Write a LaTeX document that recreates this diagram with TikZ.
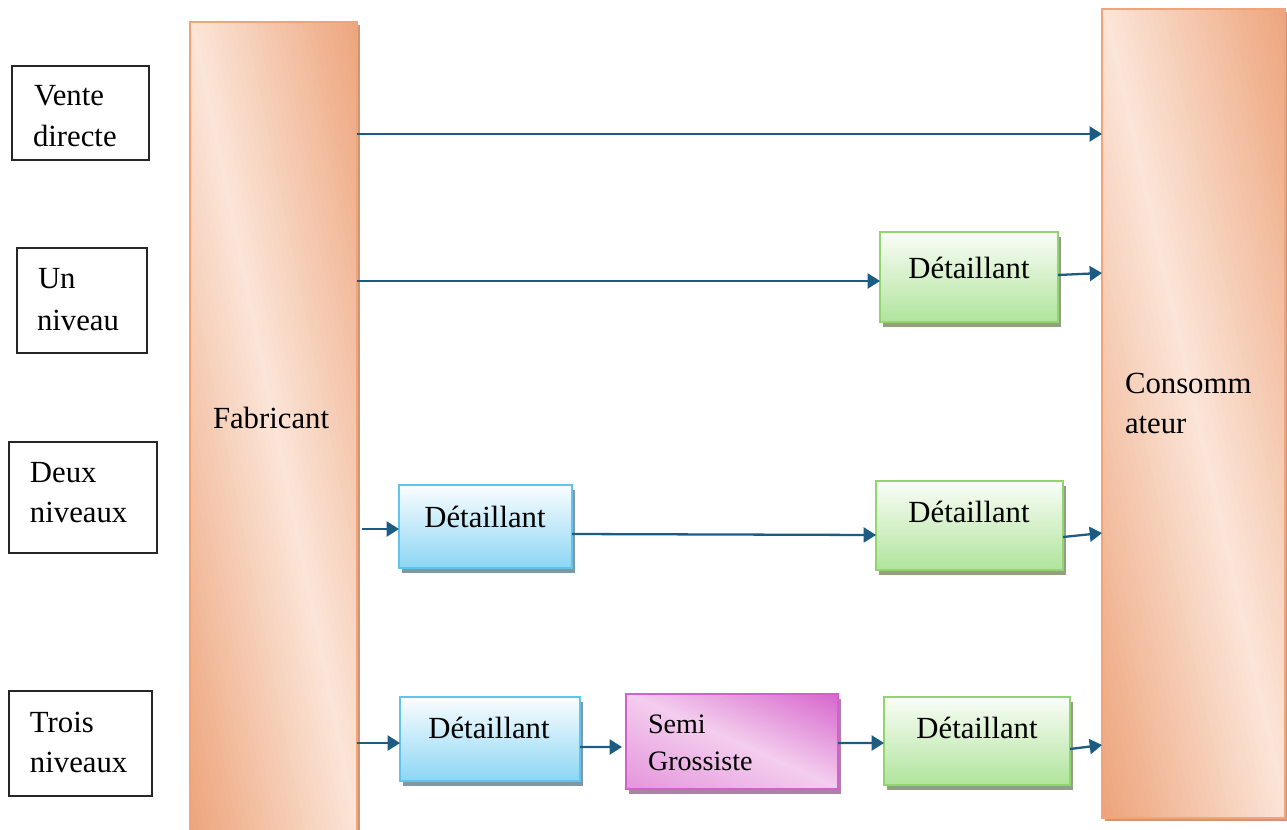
\documentclass[tikz,border=0pt]{standalone}
\usepackage{fontspec}
\setmainfont{Liberation Serif}
\usetikzlibrary{arrows.meta,shadows}

\definecolor{arrowblue}{RGB}{28,92,130}
\definecolor{barlight}{RGB}{251,229,216}
\definecolor{bardark}{RGB}{237,164,124}
\definecolor{barline}{RGB}{241,164,122}
\definecolor{barshadow}{RGB}{205,150,120}
\definecolor{greenline}{RGB}{146,212,110}
\definecolor{greentop}{RGB}{250,253,247}
\definecolor{greenbot}{RGB}{176,228,156}
\definecolor{greenshadow}{RGB}{145,160,130}
\definecolor{blueline}{RGB}{96,196,236}
\definecolor{bluetop}{RGB}{250,253,255}
\definecolor{bluebot}{RGB}{140,214,244}
\definecolor{blueshadow}{RGB}{130,150,165}
\definecolor{pinkline}{RGB}{212,96,204}
\definecolor{pinklight}{RGB}{244,206,238}
\definecolor{pinkdark}{RGB}{214,100,204}
\definecolor{pinkmid}{RGB}{228,150,220}
\definecolor{pinkshadow}{RGB}{170,130,165}

\begin{document}
\begin{tikzpicture}[x=0.02cm,y=-0.02cm,
  every node/.style={font=\fontsize{17.5}{23}\selectfont, inner sep=0pt, outer sep=0pt},
  sz/.style 2 args={minimum width=#1*0.02cm, minimum height=#2*0.02cm},
  labelbox/.style={draw=black!85, line width=0.6pt, rectangle},
  % diagonal gradient built from thin slanted strips (coordinates relative to the node centre):
  % light along the top-left/bottom-right diagonal, darker towards the other two corners
  % args: width, height, colour above the diagonal, colour below, light colour
  diagstrips/.style n args={5}{path picture={
      \foreach \k in {0,...,60}{
        \pgfmathsetmacro\uoff{(\k-30)/30*#1}
        \pgfmathsetmacro\dpct{abs(\k-30)/30*100}
        \ifnum\k<30 \def\stripcol{#4}\else\def\stripcol{#3}\fi
        \fill[\stripcol!\dpct!#5]
          ({-#1/2+\uoff},{-#2/2}) -- ({-#1/2+\uoff+#1/30+1.5},{-#2/2})
          -- ({#1/2+\uoff+#1/30+1.5},{#2/2}) -- ({#1/2+\uoff},{#2/2}) -- cycle;
      }}},
  bar/.style={draw=barline, line width=1.1pt, fill=barlight,
    drop shadow={shadow xshift=1.6pt, shadow yshift=-1.6pt, fill=barshadow, opacity=1}},
  gbox/.style={draw=greenline, line width=1.1pt, top color=greentop, bottom color=greenbot,
    drop shadow={shadow xshift=1.7pt, shadow yshift=-2.6pt, fill=greenshadow, opacity=1}},
  bbox/.style={draw=blueline, line width=1.1pt, top color=bluetop, bottom color=bluebot,
    drop shadow={shadow xshift=1.7pt, shadow yshift=-2.6pt, fill=blueshadow, opacity=1}},
  pbox/.style={draw=pinkline, line width=1.1pt, fill=pinklight,
    drop shadow={shadow xshift=1.7pt, shadow yshift=-2.6pt, fill=pinkshadow, opacity=1}},
  arr/.style={draw=arrowblue, line width=1.3pt, -{Triangle[length=7pt,width=8.5pt]}}]

\useasboundingbox (0,0) rectangle (1287,829);

% producer and consumer bars
\node[bar, sz={167}{818}, diagstrips={167}{818}{bardark}{bardark}{barlight}] (fab) at (273.5,431) {};
\node[anchor=base west] (fabtxt) at (213,428) {Fabricant};
\node[bar, sz={183}{809}, diagstrips={183}{809}{bardark}{bardark}{barlight}] (cons) at (1193.5,413.5) {};
\node[anchor=base west] (constxt1) at (1125,393) {Consomm};
\node[anchor=base west] (constxt2) at (1125,433) {ateur};

% channel level labels
\node[labelbox, sz={137}{94}] (l1) at (80.5,113) {};
\node[anchor=base west] (l1a) at (34,105) {Vente};
\node[anchor=base west] (l1b) at (33,146) {directe};
\node[labelbox, sz={130}{105}] (l2) at (82,300.5) {};
\node[anchor=base west] (l2a) at (38,288) {Un};
\node[anchor=base west] (l2b) at (37,330) {niveau};
\node[labelbox, sz={148}{111}] (l3) at (83,497.5) {};
\node[anchor=base west] (l3a) at (30,482) {Deux};
\node[anchor=base west] (l3b) at (30,522) {niveaux};
\node[labelbox, sz={143}{105}] (l4) at (80.5,743.5) {};
\node[anchor=base west] (l4a) at (30,732) {Trois};
\node[anchor=base west] (l4b) at (30,772) {niveaux};

% intermediaries
\node[gbox, sz={178}{90}] (g1) at (969,277) {};
\node[anchor=base] (g1t) at (969,278) {Détaillant};

\node[bbox, sz={173}{83}] (b1) at (485.5,526.5) {};
\node[anchor=base] (b1t) at (485,527) {Détaillant};
\node[gbox, sz={187}{89}] (g2) at (969.5,525.5) {};
\node[anchor=base] (g2t) at (969,522) {Détaillant};

\node[bbox, sz={180}{84}] (b2) at (490,739) {};
\node[anchor=base] (b2t) at (489,738) {Détaillant};
\node[pbox, sz={212}{95}, diagstrips={212}{95}{pinkdark}{pinkmid}{pinklight}] (p1) at (732,741.5) {};
\node[anchor=base west, font=\fontsize{16}{20}\selectfont] (p1a) at (648,733) {Semi};
\node[anchor=base west, font=\fontsize{16}{20}\selectfont] (p1b) at (648,770) {Grossiste};
\node[gbox, sz={186}{88}] (g3) at (977,741) {};
\node[anchor=base] (g3t) at (977,738) {Détaillant};

% flows
\coordinate (r1) at (0,134);
\draw[arr] (fab.east |- r1) -- (cons.west |- r1);

\draw[arr] ([yshift=-0.08cm]fab.east |- g1.west) -- ([yshift=-0.08cm]g1.west);
\draw[arr] ([yshift=0.04cm]g1.east) -- ([yshift=0.08cm]g1.east -| cons.west);

\draw[arr] ([xshift=0.1cm,yshift=-0.05cm]fab.east |- b1.west) -- ([yshift=-0.05cm]b1.west);
\draw[arr] ([yshift=-0.15cm]b1.east) -- ([yshift=-0.19cm]g2.west);
\draw[arr] ([yshift=-0.23cm]g2.east) -- ([yshift=-0.15cm]g2.east -| cons.west);

\draw[arr] ([yshift=-0.08cm]fab.east |- b2.west) -- ([yshift=-0.08cm]b2.west);
\draw[arr] ([yshift=-0.16cm]b2.east) -- ([xshift=-0.08cm,yshift=-0.11cm]p1.west);
\draw[arr] ([yshift=-0.03cm]p1.east) -- ([yshift=-0.04cm]g3.west);
\draw[arr] ([yshift=-0.16cm]g3.east) -- ([yshift=-0.08cm]g3.east -| cons.west);
\end{tikzpicture}
\end{document}
